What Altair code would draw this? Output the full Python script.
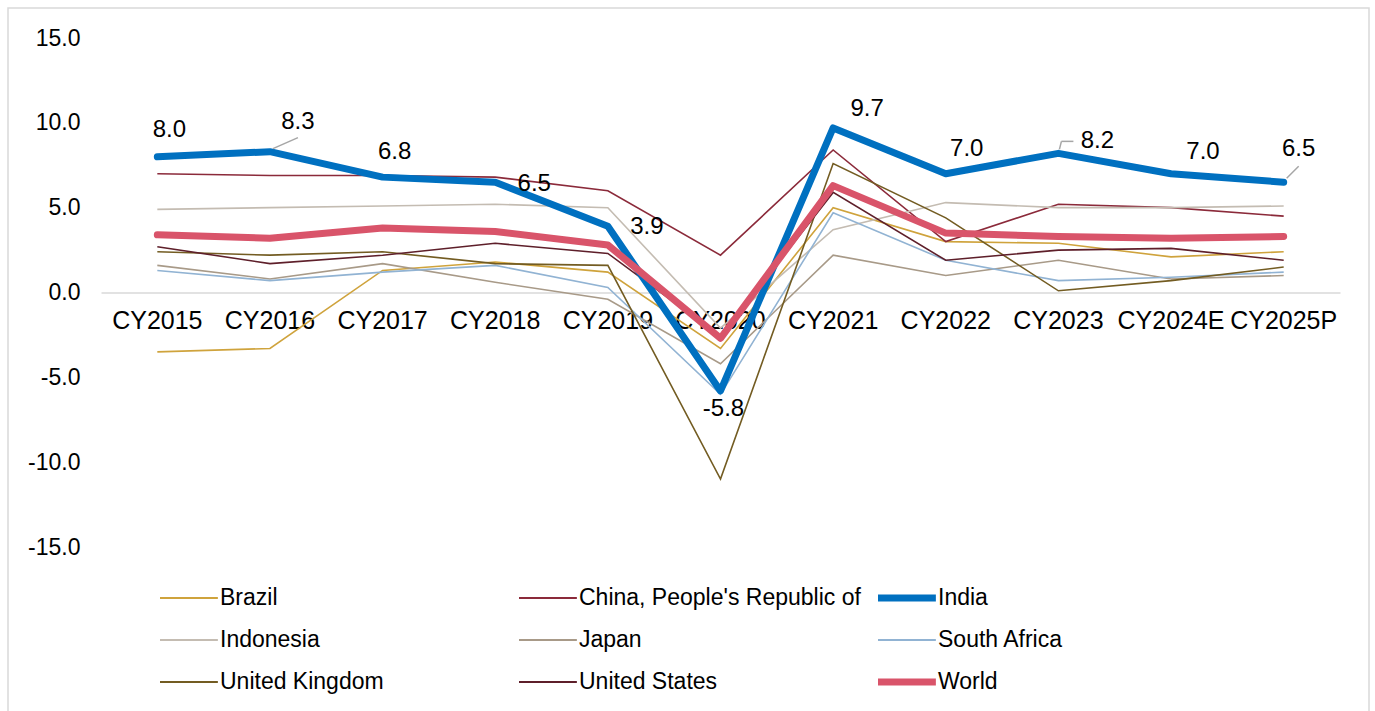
import altair as alt
import pandas as pd

years = ["CY2015", "CY2016", "CY2017", "CY2018", "CY2019", "CY2020",
         "CY2021", "CY2022", "CY2023", "CY2024E", "CY2025P"]
series = ["Brazil", "China, People's Republic of", "India", "Indonesia", "Japan",
          "South Africa", "United Kingdom", "United States", "World"]
thick_series = ["India", "World"]

brazil = [-3.5, -3.3, 1.3, 1.8, 1.2, -3.3, 5.0, 3.0, 2.9, 2.1, 2.4]
china = [7.0, 6.9, 6.9, 6.8, 6.0, 2.2, 8.4, 3.0, 5.2, 5.0, 4.5]
india = [8.0, 8.3, 6.8, 6.5, 3.9, -5.8, 9.7, 7.0, 8.2, 7.0, 6.5]
indonesia = [4.9, 5.0, 5.1, 5.2, 5.0, -2.1, 3.7, 5.3, 5.0, 5.0, 5.1]
japan = [1.6, 0.8, 1.7, 0.6, -0.4, -4.2, 2.2, 1.0, 1.9, 0.8, 1.0]
south_africa = [1.3, 0.7, 1.2, 1.6, 0.3, -6.0, 4.7, 1.9, 0.7, 0.9, 1.2]
united_kingdom = [2.4, 2.2, 2.4, 1.7, 1.6, -11.0, 7.6, 4.4, 0.1, 0.7, 1.5]
united_states = [2.7, 1.7, 2.2, 2.9, 2.3, -2.6, 5.9, 1.9, 2.5, 2.6, 1.9]
world = [3.4, 3.2, 3.8, 3.6, 2.8, -2.7, 6.3, 3.5, 3.3, 3.2, 3.3]

all_values = [brazil, china, india, indonesia, japan, south_africa,
              united_kingdom, united_states, world]

colors = ["#CFA33C", "#8B2A3A", "#0070C0", "#C4BCB2", "#A89A88",
          "#91B3D3", "#735C22", "#5E1F2A", "#D9546A"]

rows = []
for s, vals in zip(series, all_values):
    for y, v in zip(years, vals):
        rows.append({"year": y, "series": s, "value": v})
df = pd.DataFrame(rows)
df["order"] = df["series"].map(series.index)
india_df = pd.DataFrame({"year": years, "value": india})

FONT = "Liberation Sans"
W, H = 1239, 509

x_enc = alt.X("year:N", sort=years, scale=alt.Scale(domain=years),
              axis=alt.Axis(title=None, labelAngle=0, ticks=False, domain=True,
                            domainColor="#D9D9D9", domainWidth=1.5,
                            offset=-H / 2, labelFontSize=25, labelPadding=16,
                            labelColor="#000000", labelFont=FONT))
y_enc = alt.Y("value:Q",
              scale=alt.Scale(domain=[-15, 15], nice=False, zero=False),
              axis=alt.Axis(title=None, values=[-15, -10, -5, 0, 5, 10, 15],
                            format=".1f", grid=False, domain=False, ticks=False,
                            labelFontSize=23, labelPadding=21,
                            labelColor="#000000", labelFont=FONT))

legend = alt.Legend(
    title=None, orient="none", legendX=59, legendY=547,
    direction="horizontal",
    columns=3, gridAlign="all", columnPadding=17, rowPadding=16,
    clipHeight=26, symbolType="stroke", symbolSize=8600,
    symbolStrokeWidth=alt.ExprRef(
        "indexof(['India', 'World'], datum.label) >= 0 ? 7 : 2"),
    labelFontSize=23, labelFont=FONT, labelColor="#000000",
    labelOffset=37, labelLimit=0, padding=0,
)

color_enc = alt.Color("series:N", sort=series,
                      scale=alt.Scale(domain=series, range=colors), legend=legend)

thin = alt.Chart(df).transform_filter(
    ~alt.FieldOneOfPredicate(field="series", oneOf=thick_series)
).mark_line(strokeWidth=1.6, strokeJoin="miter").encode(
    x=x_enc, y=y_enc, color=color_enc, order=alt.Order("order:Q"),
)
thick = alt.Chart(df).transform_filter(
    alt.FieldOneOfPredicate(field="series", oneOf=thick_series)
).mark_line(strokeWidth=7, strokeCap="round", strokeJoin="round").encode(
    x=x_enc, y=y_enc, color=color_enc, order=alt.Order("order:Q"),
)

label_offsets = {
    "CY2015": (12, -27), "CY2016": (28, -30), "CY2017": (12, -25),
    "CY2018": (39, 2), "CY2019": (39, 1), "CY2020": (3, 18),
    "CY2021": (34, -19), "CY2022": (21, -25), "CY2023": (39, -12),
    "CY2024E": (32, -22), "CY2025P": (15, -33),
}
labels = []
for yr, (dx, dy) in label_offsets.items():
    labels.append(
        alt.Chart(india_df).transform_filter(alt.datum.year == yr)
        .mark_text(dx=dx, dy=dy, fontSize=24, font=FONT, color="#000000",
                   align="center", baseline="middle")
        .encode(x=alt.X("year:N", sort=years), y="value:Q",
                text=alt.Text("value:Q", format=".1f"))
    )

leader_style = dict(color="#A6A6A6", strokeWidth=1.5)
leaders = []
leader_segments = {
    "CY2016": [(3, -3, 28, -14)],
    "CY2023": [(1, -4, 3, -12), (3, -12, 15, -12)],
    "CY2025P": [(3, -4, 15, -16)],
}
for yr, segs in leader_segments.items():
    for (x1, y1, x2, y2) in segs:
        leaders.append(
            alt.Chart(india_df).transform_filter(alt.datum.year == yr)
            .mark_rule(xOffset=x1, yOffset=y1, x2Offset=x2, y2Offset=y2,
                       **leader_style)
            .encode(x=alt.X("year:N", sort=years), x2="year:N",
                    y="value:Q", y2="value:Q")
        )

frame = alt.Chart(pd.DataFrame({"a": [0]})).mark_rect(
    fill=None, stroke="#D9D9D9", strokeWidth=1.5
).encode(x=alt.value(-93), x2=alt.value(1268), y=alt.value(-30), y2=alt.value(700))

chart = alt.layer(frame, thin, thick, *leaders, *labels).properties(
    width=W, height=H,
    autosize="none",
    background="white",
    padding={"left": 101, "top": 38, "right": 35, "bottom": 164},
).configure_view(stroke=None)

locale = {"decimal": ".", "thousands": ",", "grouping": [3],
          "currency": ["$", ""], "minus": "-"}
chart.save("out.html", embed_options={"renderer": "svg", "actions": False,
                                      "formatLocale": locale})
